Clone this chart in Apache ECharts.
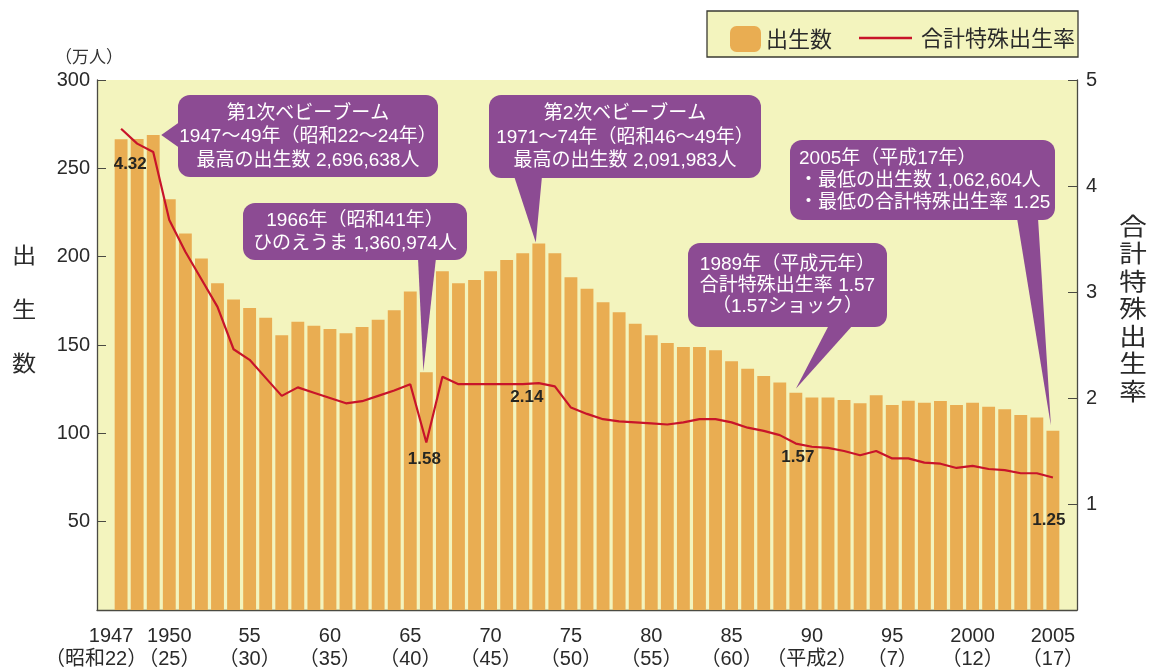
<!DOCTYPE html>
<html>
<head>
<meta charset="utf-8">
<title>出生数・合計特殊出生率</title>
<script src="https://cdn.jsdelivr.net/npm/echarts@6/dist/echarts.min.js"></script>
<style>
  html, body { margin: 0; background: #fff; }
  #chart { width: 1149px; height: 667px; }
</style>
</head>
<body>
<div id="chart"></div>
<script>
'use strict';

// ---- data ----
const years = [1947, 1948, 1949, 1950, 1951, 1952, 1953, 1954, 1955, 1956,
  1957, 1958, 1959, 1960, 1961, 1962, 1963, 1964, 1965, 1966,
  1967, 1968, 1969, 1970, 1971, 1972, 1973, 1974, 1975, 1976,
  1977, 1978, 1979, 1980, 1981, 1982, 1983, 1984, 1985, 1986,
  1987, 1988, 1989, 1990, 1991, 1992, 1993, 1994, 1995, 1996,
  1997, 1998, 1999, 2000, 2001, 2002, 2003, 2004, 2005];

// 出生数 (万人)
const births = [266.4, 266.6, 268.8, 232.5, 213.1, 198.9, 185.0, 175.8, 170.9, 165.4,
  155.5, 163.2, 160.9, 159.0, 156.6, 160.2, 164.3, 169.7, 180.3, 134.6,
  191.7, 185.0, 186.8, 191.7, 198.1, 202.0, 207.5, 202.0, 188.3, 181.8,
  174.2, 168.6, 162.0, 155.5, 151.1, 148.9, 148.9, 147.0, 140.8, 136.5,
  132.4, 128.8, 123.0, 120.3, 120.3, 118.8, 117.0, 121.6, 116.0, 118.4,
  117.3, 118.3, 116.0, 117.3, 115.1, 113.6, 110.4, 108.9, 101.4];

// 合計特殊出生率
const rates = [4.54, 4.40, 4.32, 3.68, 3.38, 3.12, 2.86, 2.46, 2.36, 2.19,
  2.02, 2.10, 2.05, 2.00, 1.95, 1.97, 2.02, 2.07, 2.13, 1.58,
  2.20, 2.13, 2.13, 2.13, 2.13, 2.13, 2.14, 2.11, 1.91, 1.85,
  1.80, 1.78, 1.77, 1.76, 1.75, 1.77, 1.80, 1.80, 1.77, 1.72,
  1.69, 1.65, 1.57, 1.54, 1.53, 1.50, 1.46, 1.50, 1.43, 1.43,
  1.39, 1.38, 1.34, 1.36, 1.33, 1.32, 1.29, 1.29, 1.25];

const tickYears = [1947, 1950, 1955, 1960, 1965, 1970, 1975, 1980, 1985, 1990, 1995, 2000, 2005];
const tickTop = ['1947', '1950', '55', '60', '65', '70', '75', '80', '85', '90', '95', '2000', '2005'];
const tickBottom = ['（昭和22）', '（25）', '（30）', '（35）', '（40）', '（45）', '（50）',
  '（55）', '（60）', '（平成2）', '（7）', '（12）', '（17）'];

// labelled points of the rate line
const rateNotes = {
  1949: [-23, 0],
  1966: [-2, 4],
  1973: [-12, 2],
  1989: [2, 1],
  2005: [-4, 30]
};

const SANS = "'Liberation Sans', 'Noto Sans CJK JP', sans-serif";
const JP = "'Noto Sans CJK JP', 'Liberation Sans', sans-serif";
const BAR = '#E9AD52';
const LINE = '#C8142A';
const PURPLE = '#8C4B93';
const PAPER = '#F3F4BE';
const AXIS = '#4a4a42';

// callout boxes: box = [x, y, w, h], tail base points, tail tip taken from the bar
const callouts = [
  {
    lines: ['第1次ベビーブーム', '1947〜49年（昭和22〜24年）', '最高の出生数 2,696,638人'],
    box: [178, 95, 260, 82], base: [[181, 121], [181, 149]], year: 1949, nudge: [8, 0]
  },
  {
    lines: ['第2次ベビーブーム', '1971〜74年（昭和46〜49年）', '最高の出生数 2,091,983人'],
    box: [489, 95, 272, 83], base: [[514, 176], [542, 176]], year: 1973, nudge: [-3, -1]
  },
  {
    lines: ['1966年（昭和41年）', 'ひのえうま 1,360,974人'],
    box: [243, 203, 224, 57], base: [[418, 258], [436, 258]], year: 1966, nudge: [-3, -1]
  },
  {
    lines: ['1989年（平成元年）', '合計特殊出生率 1.57', '（1.57ショック）'],
    box: [688, 243, 199, 84], base: [[829, 325], [853, 325]], year: 1989, nudge: [0, -4], lh: 21
  },
  {
    lines: ['2005年（平成17年）', '・最低の出生数 1,062,604人', '・最低の合計特殊出生率 1.25'],
    box: [790, 140, 265, 80], base: [[1017, 218], [1038, 218]], year: 2005, nudge: [-2, -5],
    lh: 22, left: true
  }
];

const chart = echarts.init(document.getElementById('chart'));

// one empty slot on each side, like the printed frame
const cats = ['1946'].concat(years.map(String), ['2006']);
const barData = [null].concat(births, [null]);
const rateData = [null].concat(rates.map(function(v, i) {
  const off = rateNotes[years[i]];
  if (!off) return v;
  return {
    value: v,
    label: {
      show: true, position: 'bottom', distance: 4, offset: off,
      formatter: v.toFixed(2),
      fontSize: 17, fontWeight: 'bold', color: '#262622', fontFamily: SANS
    }
  };
}), [null]);

const option = {
  animation: false,
  backgroundColor: '#fff',
  textStyle: { fontFamily: SANS },
  grid: {
    left: 97, right: 72, top: 80, bottom: 57,
    outerBoundsMode: 'none',
    show: true, backgroundColor: PAPER, borderWidth: 0
  },
  legend: [
    {
      data: ['出生数'], left: 725, top: 21, itemWidth: 31, itemHeight: 26, itemGap: 8,
      textStyle: { fontSize: 22, color: '#2a2a2a', fontFamily: JP }
    },
    {
      data: [{ name: '合計特殊出生率', icon: 'rect' }], left: 854, top: 22,
      itemWidth: 53, itemHeight: 2.5,
      textStyle: { fontSize: 22, color: '#2a2a2a', fontFamily: JP, padding: [0, 0, 0, 4] }
    }
  ],
  xAxis: {
    type: 'category',
    data: cats,
    axisLine: { lineStyle: { color: AXIS, width: 1.3 } },
    axisTick: { show: false },
    axisLabel: {
      interval: 0,
      formatter: function(value) {
        const i = tickYears.indexOf(+value);
        if (i === -1) return '';
        // the first label sits a little to the left in the print
        if (i === 0) return '{a|' + tickTop[i] + '}\n{b|' + tickBottom[i] + '}';
        return tickTop[i] + '\n' + tickBottom[i];
      },
      rich: {
        a: { fontSize: 20, lineHeight: 23, padding: [0, 20, 0, 0] },
        b: { fontSize: 20, lineHeight: 23, padding: [0, 50, 0, 0] }
      },
      hideOverlap: false,
      margin: 15, fontSize: 20, lineHeight: 23, color: '#2a2a2a'
    }
  },
  yAxis: [
    {
      type: 'value', min: 0, max: 300, interval: 50,
      axisLine: { show: true, lineStyle: { color: AXIS, width: 1.3 } },
      axisTick: { show: true, inside: true, length: 9, lineStyle: { color: AXIS } },
      splitLine: { show: false },
      axisLabel: {
        fontSize: 20, color: '#2a2a2a', margin: 7,
        formatter: function(v) { return v === 0 ? '' : v; }
      }
    },
    {
      type: 'value', min: 0, max: 5, interval: 1, position: 'right',
      axisLine: { show: true, lineStyle: { color: AXIS, width: 1.3 } },
      axisTick: { show: true, inside: true, length: 9, lineStyle: { color: AXIS } },
      splitLine: { show: false },
      axisLabel: {
        fontSize: 20, color: '#2a2a2a', margin: 9,
        formatter: function(v) { return v === 0 ? '' : v; }
      }
    }
  ],
  series: [
    {
      name: '出生数', type: 'bar', data: barData,
      barCategoryGap: '20%',
      itemStyle: { color: BAR }
    },
    {
      name: '合計特殊出生率', type: 'line', yAxisIndex: 1, data: rateData,
      symbol: 'circle', symbolSize: 0, showSymbol: true, showAllSymbol: true, z: 5,
      lineStyle: { color: LINE, width: 2.2 },
      itemStyle: { color: LINE }
    }
  ]
};

chart.setOption(option);

// frame text, legend box and callouts
function buildGraphic() {
  const els = [
    {
      type: 'rect', z: 1,
      shape: { x: 707, y: 11, width: 371, height: 46 },
      style: { fill: PAPER, stroke: '#3a3a32', lineWidth: 1.3 }
    },
    {
      type: 'text', x: 89, y: 57, z: 10,
      style: { text: '（万人）', fontSize: 17, fontFamily: JP, fill: '#333', align: 'center', verticalAlign: 'middle' }
    },
    {
      type: 'text', x: 24, y: 309, z: 10, scaleX: 1.1,
      style: { text: '出\n生\n数', fontSize: 22, lineHeight: 54, fontFamily: JP, fill: '#2a2a2a', align: 'center', verticalAlign: 'middle' }
    },
    {
      type: 'text', x: 1133, y: 308, z: 10, scaleX: 1.15,
      style: { text: '合\n計\n特\n殊\n出\n生\n率', fontSize: 24, lineHeight: 27.5, fontFamily: JP, fill: '#2a2a2a', align: 'center', verticalAlign: 'middle' }
    }
  ];

  callouts.forEach(function(c) {
    const idx = years.indexOf(c.year);
    const p = chart.convertToPixel({ seriesIndex: 0 }, [idx + 1, births[idx]]);
    const tip = [p[0] + c.nudge[0], p[1] + c.nudge[1]];
    const b = c.box;
    els.push({
      type: 'polygon', z: 100,
      shape: { points: [c.base[0], tip, c.base[1]] },
      style: { fill: PURPLE }
    });
    els.push({
      type: 'rect', z: 100,
      shape: { x: b[0], y: b[1], width: b[2], height: b[3], r: 12 },
      style: { fill: PURPLE }
    });
    els.push({
      type: 'text', z: 101,
      x: c.left ? b[0] + 9 : b[0] + b[2] / 2,
      y: b[1] + b[3] / 2 + 1,
      style: {
        text: c.lines.join('\n'),
        fontSize: 19, lineHeight: c.lh || 23.5, fontFamily: SANS, fill: '#fff',
        align: c.left ? 'left' : 'center', verticalAlign: 'middle'
      }
    });
  });
  return els;
}

chart.setOption({ graphic: buildGraphic() });
</script>
</body>
</html>
